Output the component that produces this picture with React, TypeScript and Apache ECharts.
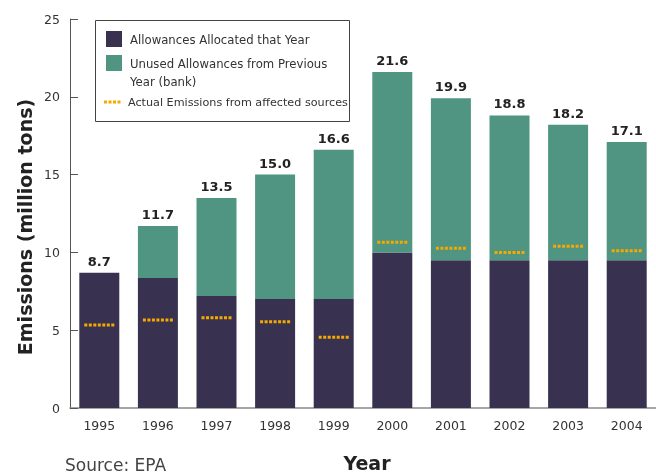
import React, { useEffect, useRef } from "react";
import * as echarts from "echarts";

const years = ["1995", "1996", "1997", "1998", "1999", "2000", "2001", "2002", "2003", "2004"];
const allocated = [8.7, 8.35, 7.2, 7.0, 7.0, 10.0, 9.5, 9.5, 9.5, 9.5];
const banked = [0, 3.35, 6.3, 8.0, 9.6, 11.6, 10.4, 9.3, 8.7, 7.6];
const totals = ["8.7", "11.7", "13.5", "15.0", "16.6", "21.6", "19.9", "18.8", "18.2", "17.1"];
const emissions = [5.33, 5.66, 5.8, 5.55, 4.54, 10.65, 10.26, 10.0, 10.4, 10.1];
const yTicks = [0, 5, 10, 15, 20, 25];

const PURPLE = "#383250";
const GREEN = "#4f9582";
const ORANGE = "#f5a800";
const FONT = "'DejaVu Sans', sans-serif";

export default function App() {
  const ref = useRef<HTMLDivElement>(null);
  useEffect(() => {
    if (!ref.current) return;
    const chart = echarts.init(ref.current, null, { renderer: "svg" });
    chart.setOption({
      animation: false,
      textStyle: { fontFamily: FONT },
      grid: { left: 70, top: 19, width: 587, bottom: 67, containLabel: false },
      xAxis: {
        type: "category",
        data: years,
        axisLine: { lineStyle: { color: "#888", width: 1.5 } },
        axisTick: { inside: true, length: 10, lineStyle: { color: "#555" } },
        axisLabel: { color: "#333", fontSize: 12.5, margin: 11, fontFamily: FONT },
      },
      yAxis: {
        type: "value",
        min: yTicks[0],
        max: yTicks[yTicks.length - 1],
        interval: 5,
        splitLine: { show: false },
        axisLine: { show: true, lineStyle: { color: "#555", width: 1 } },
        axisTick: { show: true, inside: true, length: 8, lineStyle: { color: "#555" } },
        axisLabel: { color: "#333", fontSize: 12.5, margin: 10, fontFamily: FONT },
      },
      series: [
        {
          type: "bar",
          name: "Allowances Allocated that Year",
          stack: "a",
          data: allocated,
          barWidth: 40,
          itemStyle: { color: PURPLE },
        },
        {
          type: "bar",
          name: "Unused Allowances from Previous Year (bank)",
          stack: "a",
          data: banked,
          barWidth: 40,
          itemStyle: { color: GREEN },
          label: {
            show: true,
            position: "top",
            distance: 5,
            color: "#222",
            fontWeight: "bold",
            fontSize: 13,
            fontFamily: FONT,
            formatter: (p: any) => totals[p.dataIndex],
          },
        },
        {
          type: "custom",
          name: "Actual Emissions from affected sources",
          data: emissions.map((v, i) => [i, v]),
          z: 10,
          renderItem: (params: any, api: any) => {
            const pt = api.coord([api.value(0), api.value(1)]);
            return {
              type: "line",
              shape: { x1: pt[0] - 15, y1: pt[1], x2: pt[0] + 15, y2: pt[1] },
              style: { stroke: ORANGE, lineWidth: 3, lineDash: [3, 1.5] },
            };
          },
        },
      ],
      graphic: [
        {
          type: "rect",
          shape: { x: 95.5, y: 20.5, width: 254, height: 101 },
          style: { fill: "#fff", stroke: "#444", lineWidth: 1 },
          z: 20,
        },
        { type: "rect", shape: { x: 106, y: 31, width: 16, height: 16 }, style: { fill: PURPLE }, z: 21 },
        { type: "rect", shape: { x: 106, y: 55, width: 16, height: 16 }, style: { fill: GREEN }, z: 21 },
        {
          type: "line",
          shape: { x1: 104, y1: 102, x2: 121, y2: 102 },
          style: { stroke: ORANGE, lineWidth: 3, lineDash: [3, 1.5] },
          z: 21,
        },
        {
          type: "text",
          x: 130,
          y: 40,
          z: 21,
          style: { text: "Allowances Allocated that Year", fontSize: 11.7, fontFamily: FONT, fill: "#333", verticalAlign: "middle" },
        },
        {
          type: "text",
          x: 130,
          y: 64,
          z: 21,
          style: { text: "Unused Allowances from Previous", fontSize: 11.7, fontFamily: FONT, fill: "#333", verticalAlign: "middle" },
        },
        {
          type: "text",
          x: 130,
          y: 82,
          z: 21,
          style: { text: "Year (bank)", fontSize: 11.7, fontFamily: FONT, fill: "#333", verticalAlign: "middle" },
        },
        {
          type: "text",
          x: 128,
          y: 102,
          z: 21,
          style: { text: "Actual Emissions from affected sources", fontSize: 11.2, fontFamily: FONT, fill: "#333", verticalAlign: "middle" },
        },
        {
          type: "text",
          x: 25,
          y: 227,
          rotation: Math.PI / 2,
          style: {
            text: "Emissions (million tons)",
            fontSize: 19,
            fontWeight: "bold",
            fontFamily: FONT,
            fill: "#222",
            align: "center",
            verticalAlign: "middle",
          },
        },
        {
          type: "text",
          x: 367,
          y: 463,
          style: {
            text: "Year",
            fontSize: 19,
            fontWeight: "bold",
            fontFamily: FONT,
            fill: "#222",
            align: "center",
            verticalAlign: "middle",
          },
        },
        {
          type: "text",
          x: 65,
          y: 465,
          style: {
            text: "Source: EPA",
            fontSize: 17,
            fontFamily: FONT,
            fill: "#444",
            align: "left",
            verticalAlign: "middle",
          },
        },
      ],
    });
    return () => chart.dispose();
  }, []);
  return <div ref={ref} style={{ position: "fixed", left: 0, top: 0, width: 656, height: 475 }} />;
}
